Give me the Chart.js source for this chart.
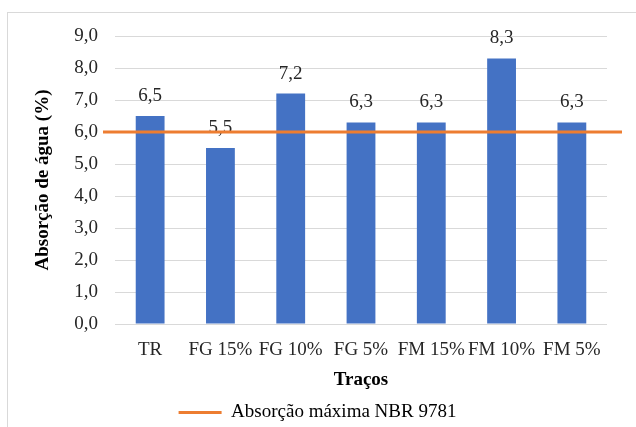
<!DOCTYPE html>
<html>
<head>
<meta charset="utf-8">
<script src="https://cdn.jsdelivr.net/npm/chart.js@4/dist/chart.umd.min.js"></script>
<style>
  html, body { margin: 0; padding: 0; background: #fff; overflow: hidden; }
  #wrap { position: relative; width: 636px; height: 427px; }
  #frame { position: absolute; left: 7px; top: 12px; width: 700px; height: 500px;
           border: 1px solid #d9d9d9; box-sizing: border-box; }
  canvas { position: absolute; left: 0; top: 0; }
</style>
</head>
<body>
<div id="wrap">
  <div id="frame"></div>
  <canvas id="chart" width="636" height="427"></canvas>
</div>
<script>
// data
const tracos = ['TR', 'FG 15%', 'FG 10%', 'FG 5%', 'FM 15%', 'FM 10%', 'FM 5%'];
const absorcao = [6.5, 5.5, 7.2, 6.3, 6.3, 8.3, 6.3];
const limiteNBR = 6.0;
const yTicks = [0, 1, 2, 3, 4, 5, 6, 7, 8, 9];

const fmt = v => Number(v).toFixed(1).replace('.', ',');
const serif = 'Liberation Serif, Times New Roman, serif';

// values above the bars, drawn right after the bars so the orange line sits over them
const barLabels = {
    id: 'barLabels',
    afterDatasetDraw(chart, args) {
        if (args.index !== 1) return;
        const ctx = chart.ctx;
        ctx.save();
        ctx.font = '19px ' + serif;
        ctx.fillStyle = '#262626';
        ctx.textAlign = 'center';
        ctx.textBaseline = 'middle';
        args.meta.data.forEach((bar, i) => {
            ctx.fillText(fmt(absorcao[i]), bar.x, bar.y - 20);
        });
        ctx.restore();
    }
};

new Chart(document.getElementById('chart'), {
    type: 'bar',
    data: {
        labels: tracos,
        datasets: [{
            type: 'line',
            label: 'Absorção máxima NBR 9781',
            data: [{ x: 0, y: limiteNBR }, { x: 1, y: limiteNBR }],
            xAxisID: 'x2',
            borderColor: '#ED7D31',
            backgroundColor: '#ED7D31',
            borderWidth: 3,
            pointRadius: 0,
            clip: false
        }, {
            label: 'Absorção',
            data: absorcao,
            backgroundColor: '#4472C4',
            grouped: false,
            barPercentage: 0.41,
            categoryPercentage: 1
        }]
    },
    options: {
        responsive: false,
        animation: false,
        layout: { padding: { left: 28, right: 29, top: 36, bottom: -5 } },
        scales: {
            x: {
                grid: { display: false },
                border: { display: false },
                ticks: { color: '#262626', padding: 7, maxRotation: 0, autoSkip: false,
                         font: { family: serif, size: 19 } },
                title: { display: true, text: 'Traços', color: '#000',
                         padding: { top: 0, bottom: 9 },
                         font: { family: serif, size: 19, weight: 'bold' } },
                afterFit: s => { s.height = 76; }
            },
            // hidden axis so the limit line runs a little past both ends of the plot
            x2: {
                type: 'linear',
                display: false,
                offset: false,
                bounds: 'data',
                min: 0.0231,
                max: 0.9711
            },
            y: {
                min: 0,
                max: 9,
                afterBuildTicks: s => { s.ticks = yTicks.map(v => ({ value: v })); },
                grid: { color: '#d9d9d9', drawTicks: false },
                border: { display: false },
                ticks: { color: '#262626', padding: 17, callback: fmt,
                         font: { family: serif, size: 19 } },
                title: { display: true, text: 'Absorção de água (%)', color: '#000',
                         font: { family: serif, size: 19, weight: 'bold' } },
                afterFit: s => { s.width = 87; }
            }
        },
        plugins: {
            legend: {
                position: 'bottom',
                labels: {
                    boxWidth: 43,
                    boxHeight: 3,
                    padding: 3,
                    color: '#262626',
                    font: { family: serif, size: 19 },
                    generateLabels: chart => [{
                        text: chart.data.datasets[0].label,
                        fillStyle: '#ED7D31',
                        strokeStyle: '#ED7D31',
                        lineWidth: 0,
                        datasetIndex: 0
                    }]
                }
            },
            tooltip: { enabled: false }
        }
    },
    plugins: [barLabels]
});
</script>
</body>
</html>
